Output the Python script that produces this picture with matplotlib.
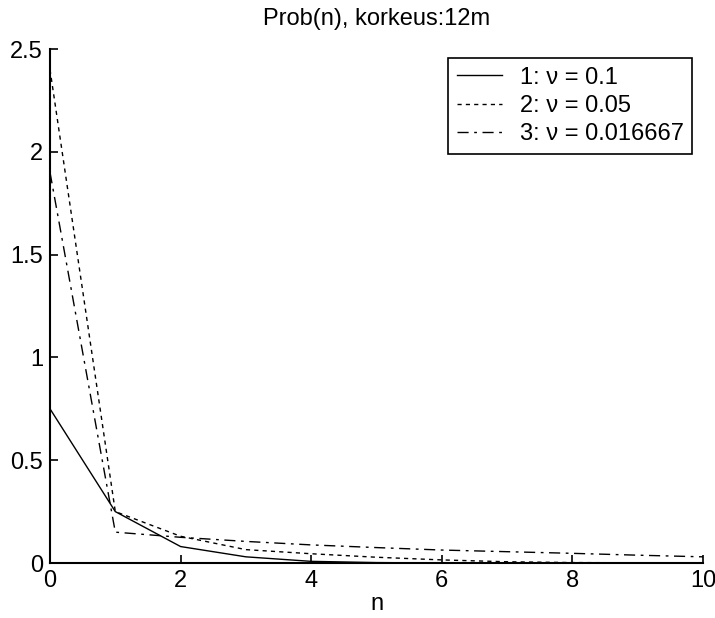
import matplotlib
matplotlib.use("Agg")
import matplotlib.pyplot as plt

# values
n = [0, 1, 2, 3, 4, 5, 6, 7, 8, 9, 10]
prob_1 = [0.75, 0.25, 0.08, 0.03, 0.008, 0.002, 0.0, 0.0, 0.0, 0.0, 0.0]
prob_2 = [2.40, 0.25, 0.13, 0.065, 0.045, 0.028, 0.015, 0.006, 0.002, 0.001, 0.0]
prob_3 = [1.90, 0.15, 0.125, 0.105, 0.088, 0.075, 0.063, 0.055, 0.047, 0.038, 0.03]
labels = ["1: ν = 0.1", "2: ν = 0.05", "3: ν = 0.016667"]
x_ticks = [0, 2, 4, 6, 8, 10]
y_ticks = [0, 0.5, 1, 1.5, 2, 2.5]
y_tick_labels = ["0", "0.5", "1", "1.5", "2", "2.5"]

plt.rcParams["font.family"] = ["Liberation Sans", "DejaVu Sans"]
fs = 17

fig = plt.figure(figsize=(7.15, 6.18), dpi=100)
ax = fig.add_axes([50 / 715, 1 - 563 / 618, 653 / 715, 514 / 618])

ax.plot(n, prob_1, color="black", linewidth=1.0, linestyle="-", label=labels[0])
ax.plot(n, prob_2, color="black", linewidth=1.0, linestyle=(0, (3, 3)), label=labels[1])
ax.plot(n, prob_3, color="black", linewidth=1.0, linestyle=(0, (8, 4, 2, 4)), label=labels[2])

ax.set_xlim(0, 10)
ax.set_ylim(0, 2.5)
ax.set_xticks(x_ticks)
ax.set_yticks(y_ticks)
ax.set_yticklabels(y_tick_labels)
ax.tick_params(direction="in", length=6, width=1.2, labelsize=fs, pad=5)
for side in ["top", "right"]:
    ax.spines[side].set_visible(False)
for side in ["left", "bottom"]:
    ax.spines[side].set_linewidth(1.5)

ax.set_title("Prob(n), korkeus:12m", fontsize=fs, pad=17)
ax.set_xlabel("n", fontsize=fs)
ax.xaxis.set_label_coords(0.5, -0.058)

# legend sits a bit left of the axes corner, like the original
leg = ax.legend(loc="upper right", bbox_to_anchor=(692 / 715, 1 - 58 / 618),
                bbox_transform=fig.transFigure, fontsize=fs, fancybox=False,
                framealpha=1, edgecolor="black", handlelength=1.9,
                borderpad=0.36, labelspacing=0.27, handletextpad=0.75,
                borderaxespad=0)
leg.get_frame().set_linewidth(1.2)

fig.savefig("out.png", dpi=100)
